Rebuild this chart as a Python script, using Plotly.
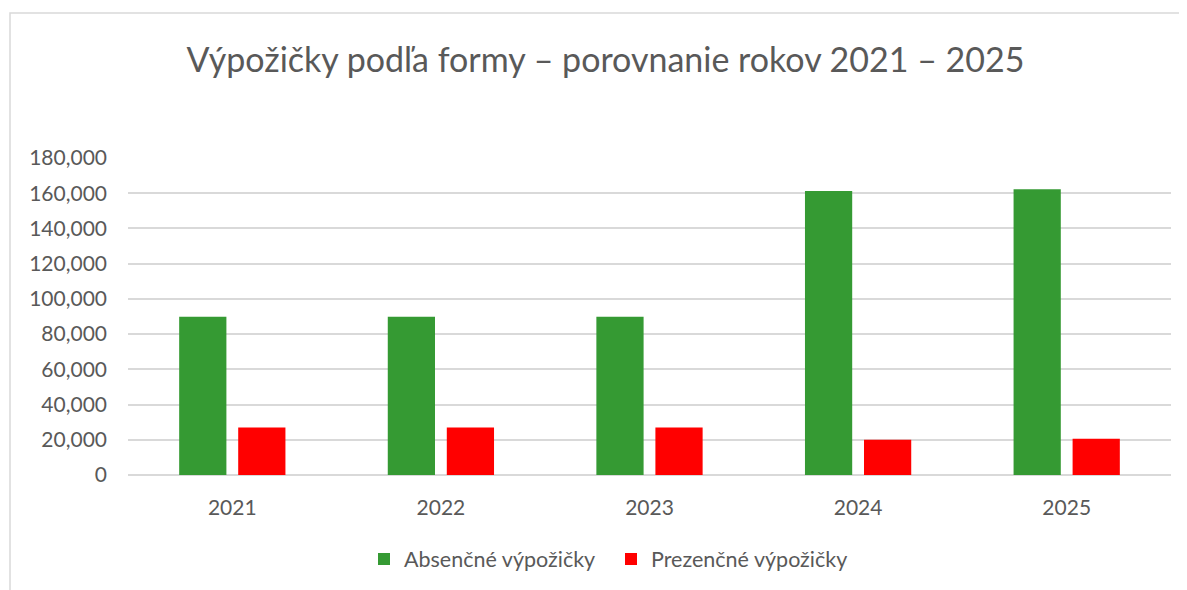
import plotly.graph_objects as go

years = ["2021", "2022", "2023", "2024", "2025"]
absencne = [89800, 89800, 89800, 161300, 162300]
prezencne = [27000, 27000, 27000, 20000, 20600]
series_names = ["Absenčné výpožičky", "Prezenčné výpožičky"]
title_text = "Výpožičky podľa formy – porovnanie rokov 2021 – 2025"

# page body has an 8px margin, so the figure is laid out in shifted coordinates
OFF = 8
W, H = 1187 - OFF, 590 - OFF
L, T = 128 - OFF, 158 - OFF
R = W - (1171 - OFF)
B = H - (475 - OFF)
plot_w = W - L - R
plot_h = H - T - B

FONT = "Lato"
GRAY = "#595959"

fig = go.Figure()
fig.add_trace(go.Bar(x=years, y=absencne, name=series_names[0],
                     marker=dict(color="#359A33", line=dict(width=0))))
fig.add_trace(go.Bar(x=years, y=prezencne, name=series_names[1],
                     marker=dict(color="#FF0000", line=dict(width=0))))

fig.update_layout(
    width=W, height=H,
    margin=dict(l=L, r=R, t=T, b=B, autoexpand=False),
    paper_bgcolor="white", plot_bgcolor="white",
    barmode="group", bargap=0.434, bargroupgap=0.2,
    font=dict(family=FONT, color=GRAY, size=21),
    title=dict(text=title_text, x=(605.5 - OFF) / W, xref="container", xanchor="center",
               y=1 - (60 - OFF) / H, yref="container", yanchor="middle",
               font=dict(family=FONT, size=34, color=GRAY)),
    showlegend=True,
    legend=dict(orientation="h", x=(356 - L) / plot_w, xanchor="left",
                y=(467 - 551) / plot_h, yanchor="middle",
                font=dict(family=FONT, size=21.5, color=GRAY),
                entrywidth=202, traceorder="normal",
                bgcolor="rgba(0,0,0,0)"),
    xaxis=dict(showgrid=False, showline=False, ticks="", ticklabelstandoff=18,
               tickfont=dict(family=FONT, size=21, color=GRAY)),
    yaxis=dict(range=[0, 180000], dtick=20000, tickformat=",d",
               showgrid=True, gridcolor="#D9D9D9", gridwidth=1.5,
               zeroline=True, zerolinecolor="#D9D9D9", zerolinewidth=1.5,
               showline=False, ticks="", ticklabelstandoff=20,
               tickfont=dict(family=FONT, size=21, color=GRAY)),
)

# chart-area border (top-left corner visible, rest outside view)
fig.add_shape(type="rect", xref="paper", yref="paper",
              x0=(2 - L) / plot_w, x1=1.2,
              y0=-0.6, y1=(467 - 5) / plot_h,
              line=dict(color="#D9D9D9", width=1.5), layer="below")

fig.write_html("out.html")
